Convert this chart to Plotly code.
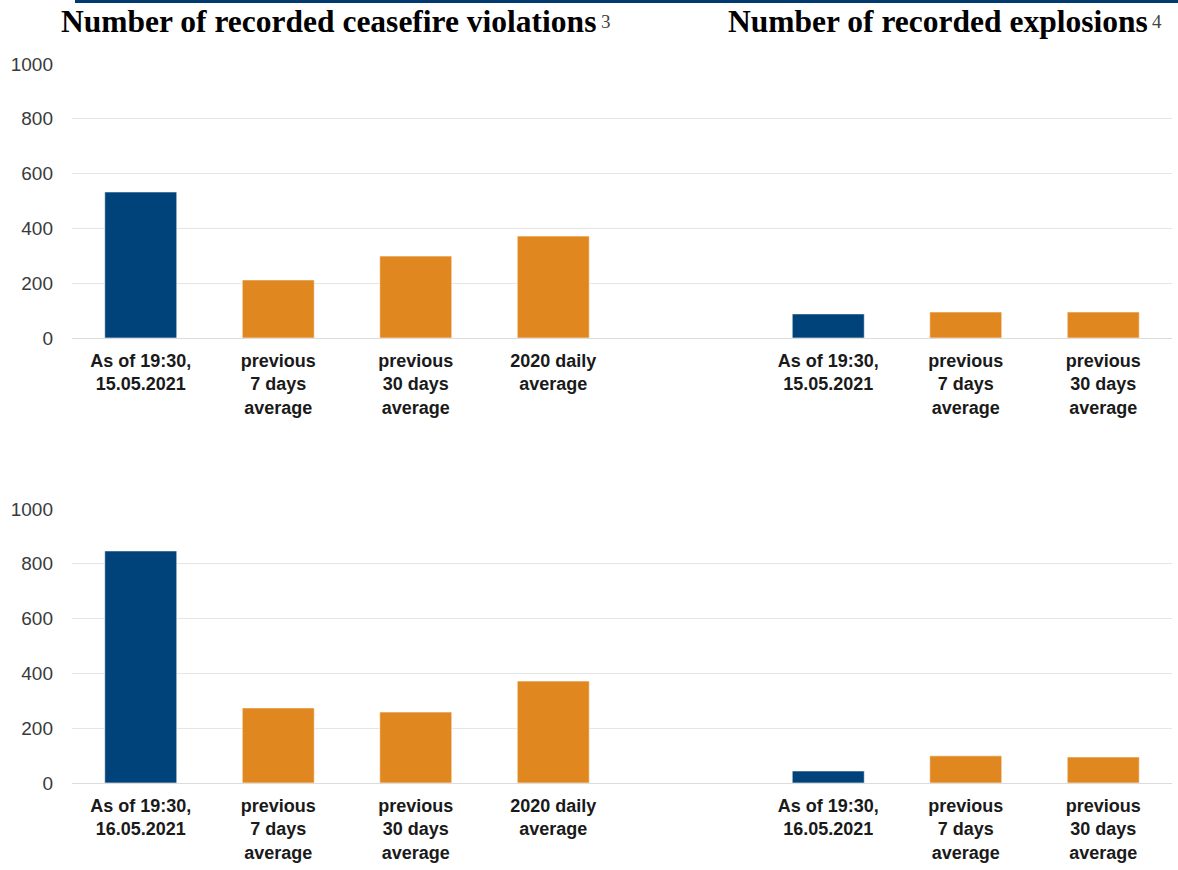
import plotly.graph_objects as go

# ---- data ----
cf_labels_1 = ["As of 19:30,<br>15.05.2021", "previous<br>7 days<br>average",
               "previous<br>30 days<br>average", "2020 daily<br>average"]
ex_labels_1 = ["As of 19:30,<br>15.05.2021", "previous<br>7 days<br>average",
               "previous<br>30 days<br>average"]
cf_labels_2 = ["As of 19:30,<br>16.05.2021", "previous<br>7 days<br>average",
               "previous<br>30 days<br>average", "2020 daily<br>average"]
ex_labels_2 = ["As of 19:30,<br>16.05.2021", "previous<br>7 days<br>average",
               "previous<br>30 days<br>average"]

cf_values_1 = [533, 212, 299, 372]
ex_values_1 = [88, 95, 95]
cf_values_2 = [847, 274, 259, 372]
ex_values_2 = [44, 99, 95]

y_ticks = [0, 200, 400, 600, 800, 1000]

title_cf = "Number of recorded ceasefire violations"
title_ex = "Number of recorded explosions"
note_cf = "3"
note_ex = "4"

BLUE = "#00437A"
ORANGE = "#E0871F"

W, H = 1178, 870


def px_x(x):
    return x / W


def px_y(y):
    return 1 - y / H


def colors(n):
    return [BLUE] + [ORANGE] * (n - 1)


fig = go.Figure()

rows = [
    (cf_labels_1, cf_values_1, ex_labels_1, ex_values_1, "x", "y"),
    (cf_labels_2, cf_values_2, ex_labels_2, ex_values_2, "x2", "y2"),
]

for cf_l, cf_v, ex_l, ex_v, xa, ya in rows:
    x_cf = list(range(len(cf_l)))
    x_ex = [len(cf_l) + 1 + i for i in range(len(ex_l))]
    fig.add_trace(go.Bar(x=x_cf, y=cf_v, marker_color=colors(len(cf_v)),
                         marker_line=dict(color="rgba(255,255,255,0.6)", width=1),
                         width=0.524, xaxis=xa, yaxis=ya, showlegend=False,
                         hoverinfo="y"))
    fig.add_trace(go.Bar(x=x_ex, y=ex_v, marker_color=colors(len(ex_v)),
                         marker_line=dict(color="rgba(255,255,255,0.6)", width=1),
                         width=0.524, xaxis=xa, yaxis=ya, showlegend=False,
                         hoverinfo="y"))

x_dom = [px_x(72), px_x(1172)]
top_dom = [px_y(338), px_y(64)]
bot_dom = [px_y(783), px_y(509)]

n_slots = len(cf_labels_1) + 1 + len(ex_labels_1)

xcommon = dict(range=[-0.5, n_slots - 0.5], showgrid=False, zeroline=False,
               showline=False, ticks="", tickmode="array",
               tickfont=dict(family="Liberation Sans, Arial", size=18, color="#1a1a1a"),
               ticklabelstandoff=10, automargin=False, fixedrange=True)
ycommon = dict(range=[0, 1000], tickvals=y_ticks, showgrid=True,
               gridcolor="#e6e6e6", gridwidth=1, zeroline=True,
               zerolinecolor="#dcdcdc", zerolinewidth=1, showline=False,
               tickfont=dict(family="Liberation Sans, Arial", size=19, color="#3a3a3a"),
               ticklabelstandoff=18, automargin=False, fixedrange=True)

fig.update_layout(
    xaxis=dict(domain=x_dom, anchor="y",
               tickvals=list(range(len(cf_labels_1))) +
               [len(cf_labels_1) + 1 + i for i in range(len(ex_labels_1))],
               ticktext=[f"<b>{t}</b>" for t in cf_labels_1 + ex_labels_1], **xcommon),
    yaxis=dict(domain=top_dom, anchor="x", **ycommon),
    xaxis2=dict(domain=x_dom, anchor="y2",
                tickvals=list(range(len(cf_labels_2))) +
                [len(cf_labels_2) + 1 + i for i in range(len(ex_labels_2))],
                ticktext=[f"<b>{t}</b>" for t in cf_labels_2 + ex_labels_2], **xcommon),
    yaxis2=dict(domain=bot_dom, anchor="x2", **ycommon),
    width=W, height=H,
    margin=dict(l=0, r=0, t=0, b=0),
    paper_bgcolor="white", plot_bgcolor="white",
    bargap=0.476,
)

# top rule
fig.add_shape(type="line", xref="paper", yref="paper", x0=px_x(75), x1=1,
              y0=px_y(1.5), y1=px_y(1.5), line=dict(color="#003A70", width=3))

# dotted look for the top gridline
for xr, yr in (("x", "y"), ("x2", "y2")):
    fig.add_shape(type="line", xref=f"{xr} domain", yref=yr, x0=0, x1=1,
                  y0=1000, y1=1000,
                  line=dict(color="white", width=1, dash="dot"))

# titles
title_font = dict(family="Liberation Serif, Times New Roman", size=31.5, color="black")
note_font = dict(family="Liberation Serif, Times New Roman", size=19, color="#444444")
for text, cx, note, nx in ((title_cf, 328, note_cf, 606), (title_ex, 938, note_ex, 1157)):
    fig.add_annotation(xref="paper", yref="paper", x=px_x(cx), y=px_y(21),
                       xanchor="center", yanchor="middle",
                       text=f"<b>{text}</b>", showarrow=False, font=title_font)
    fig.add_annotation(xref="paper", yref="paper", x=px_x(nx), y=px_y(21),
                       xanchor="center", yanchor="middle",
                       text=note, showarrow=False, font=note_font)

fig.write_html("out.html", config={"displayModeBar": False},
               post_script="document.body.style.margin='0';")
